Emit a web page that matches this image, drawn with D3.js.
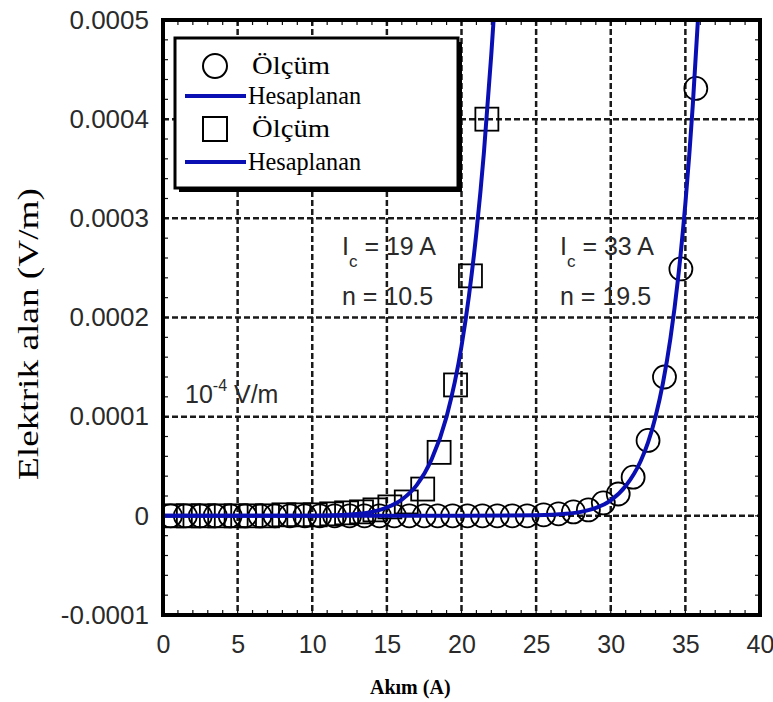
<!DOCTYPE html>
<html>
<head>
<meta charset="utf-8">
<script src="https://cdn.jsdelivr.net/npm/d3@7"></script>
<style>
body { margin: 0; background: #fff; }
</style>
</head>
<body>
<div id="chart"></div>
<script>
// Measured points, Ic = 19 A sample (squares)
const squareI = [0.6, 1.7, 2.7, 3.8, 4.9, 5.9, 7.0, 8.1, 9.1, 10.2, 11.3, 12.3, 13.3, 14.2, 15.2, 16.3, 17.4, 18.5, 19.6, 20.6, 21.7];
const squareE = [0, 0, 0, 0, 0, 0, 0, 0.000001, 0.000001, 0.000001, 0.000002, 0.000003, 0.000004, 0.000006, 0.000009, 0.000014, 0.000027, 0.000064, 0.000132, 0.000242, 0.000400];

// Measured points, Ic = 33 A sample (circles)
const circleI = [0.5, 1.5, 2.5, 3.5, 4.5, 5.5, 6.5, 7.5, 8.5, 9.5, 10.5, 11.5, 12.5, 13.5, 14.5, 15.5, 16.5, 17.5,
  18.4, 19.4, 20.4, 21.4, 22.4, 23.4, 24.4, 25.5, 26.5, 27.5, 28.5, 29.5, 30.5, 31.5, 32.5, 33.6, 34.7, 35.7];
const circleE = [0, 0, 0, 0, 0, 0, 0, 0, 0, 0, 0, 0, 0, 0, 0, 0, 0, 0,
  0, 0, 0, 0, 0, 0, 0, 0.000001, 0.000002, 0.000004, 0.000006, 0.000013, 0.000022, 0.000039, 0.000076, 0.000140, 0.000249, 0.000431];

// Calculated curves
const fit19I = [0, 10, 12, 13, 14, 15, 16, 17, 18, 19, 20, 20.5, 21, 21.5, 22, 22.15];
const fit19E = [0, 0.0000001, 0.0000008, 0.0000019, 0.000004, 0.0000084, 0.0000164, 0.000031, 0.000057, 0.0001, 0.000171, 0.000222, 0.000286, 0.000366, 0.000466, 0.0005];
const fit33I = [0, 20, 25, 27, 28, 29, 30, 31, 32, 32.5, 33, 33.5, 34, 34.5, 35, 35.5, 35.84];
const fit33E = [0, 0, 0.0000005, 0.000002, 0.000004, 0.000008, 0.0000156, 0.00003, 0.000055, 0.000074, 0.0001, 0.000134, 0.000179, 0.000238, 0.000315, 0.000415, 0.0005];

// Axis ticks
const xTicks = [0, 5, 10, 15, 20, 25, 30, 35, 40];
const yTicks = [-0.0001, 0, 0.0001, 0.0002, 0.0003, 0.0004, 0.0005];
const yTickLabels = ["-0.0001", "0", "0.0001", "0.0002", "0.0003", "0.0004", "0.0005"];

const W = 773, H = 702;
const pLeft = 163, pRight = 760, pTop = 20, pBottom = 615;
const sans = "'Liberation Sans', Arial, sans-serif";
const serif = "'Liberation Serif', 'Times New Roman', serif";
const blue = "#0a0fb4";
const ink = "#2a2a2a";

const svg = d3.select("#chart").append("svg")
  .attr("width", W)
  .attr("height", H);

const x = d3.scaleLinear().domain([0, 40]).range([pLeft, pRight]);
const y = d3.scaleLinear().domain([-0.0001, 0.0005]).range([pBottom, pTop]);

svg.append("defs").append("clipPath").attr("id", "plotclip")
  .append("rect")
  .attr("x", pLeft).attr("y", pTop)
  .attr("width", pRight - pLeft).attr("height", pBottom - pTop);

// grid
svg.append("g").selectAll("line")
  .data(xTicks.slice(1, -1))
  .join("line")
  .attr("x1", d => x(d)).attr("x2", d => x(d))
  .attr("y1", pTop).attr("y2", pBottom)
  .attr("stroke", "#1a1a1a")
  .attr("stroke-width", 2.5)
  .attr("stroke-dasharray", "6,3");

svg.append("g").selectAll("line")
  .data(yTicks.slice(1, -1))
  .join("line")
  .attr("x1", pLeft).attr("x2", pRight)
  .attr("y1", d => y(d)).attr("y2", d => y(d))
  .attr("stroke", "#1a1a1a")
  .attr("stroke-width", 2.5)
  .attr("stroke-dasharray", "6,3");

// minor ticks along the frame
const minorX = d3.range(0, 41, 1);
const minorY = d3.range(-0.0001, 0.00050001, 0.00002);
const ticks = svg.append("g").attr("stroke", "#111").attr("stroke-width", 1.2);
ticks.selectAll(".mb").data(minorX).join("line")
  .attr("x1", d => x(d)).attr("x2", d => x(d))
  .attr("y1", pBottom).attr("y2", pBottom - 5);
ticks.selectAll(".mt").data(minorX).join("line")
  .attr("x1", d => x(d)).attr("x2", d => x(d))
  .attr("y1", pTop).attr("y2", pTop + 5);
ticks.selectAll(".ml").data(minorY).join("line")
  .attr("x1", pLeft).attr("x2", pLeft + 5)
  .attr("y1", d => y(d)).attr("y2", d => y(d));
ticks.selectAll(".mr").data(minorY).join("line")
  .attr("x1", pRight).attr("x2", pRight - 5)
  .attr("y1", d => y(d)).attr("y2", d => y(d));

const plot = svg.append("g").attr("clip-path", "url(#plotclip)");

// markers
plot.append("g").selectAll("circle")
  .data(circleI.map((d, i) => [d, circleE[i]]))
  .join("circle")
  .attr("cx", d => x(d[0]))
  .attr("cy", d => y(d[1]))
  .attr("r", 11.5)
  .attr("fill", "none")
  .attr("stroke", "#000")
  .attr("stroke-width", 1.8);

plot.append("g").selectAll("rect")
  .data(squareI.map((d, i) => [d, squareE[i]]))
  .join("rect")
  .attr("x", d => x(d[0]) - 11.5)
  .attr("y", d => y(d[1]) - 11.5)
  .attr("width", 23)
  .attr("height", 23)
  .attr("fill", "none")
  .attr("stroke", "#000")
  .attr("stroke-width", 1.8);

// calculated curves
const line = d3.line()
  .x(d => x(d[0]))
  .y(d => y(d[1]))
  .curve(d3.curveMonotoneX);

[[fit19I, fit19E], [fit33I, fit33E]].forEach(([xs, ys]) => {
  plot.append("path")
    .datum(xs.map((d, i) => [d, ys[i]]))
    .attr("fill", "none")
    .attr("stroke", blue)
    .attr("stroke-width", 4)
    .attr("d", line);
});

// frame
svg.append("rect")
  .attr("x", pLeft).attr("y", pTop)
  .attr("width", pRight - pLeft).attr("height", pBottom - pTop)
  .attr("fill", "none")
  .attr("stroke", "#000")
  .attr("stroke-width", 4);

// axes labels (ticks hidden, only the text is used)
const xAxis = svg.append("g")
  .attr("transform", `translate(0,${pBottom})`)
  .call(d3.axisBottom(x).tickValues(xTicks).tickSize(0).tickPadding(20));
xAxis.select(".domain").remove();
xAxis.selectAll("text")
  .attr("font-family", sans)
  .attr("font-size", 25)
  .attr("fill", ink);

const yAxis = svg.append("g")
  .attr("transform", `translate(${pLeft},0)`)
  .call(d3.axisLeft(y).tickValues(yTicks).tickSize(0).tickPadding(14)
    .tickFormat((d, i) => yTickLabels[i]));
yAxis.select(".domain").remove();
yAxis.selectAll("text")
  .attr("font-family", sans)
  .attr("font-size", 26)
  .attr("fill", ink);

svg.append("text")
  .attr("x", 370)
  .attr("y", 694)
  .attr("font-family", serif)
  .attr("font-weight", "bold")
  .attr("font-size", 20)
  .text("Akım (A)");

svg.append("text")
  .attr("transform", "translate(38,334) rotate(-90)")
  .attr("text-anchor", "middle")
  .attr("font-family", serif)
  .attr("font-size", 29)
  .attr("textLength", 292)
  .attr("lengthAdjust", "spacingAndGlyphs")
  .text("Elektrik alan (V/m)");

// annotations
function icLabel(px, ic, n) {
  const t = svg.append("text")
    .attr("x", px).attr("y", 255)
    .attr("font-family", sans)
    .attr("font-size", 25)
    .attr("fill", ink);
  t.append("tspan").text("I");
  t.append("tspan").attr("dy", 12).attr("font-size", 17).text("c");
  t.append("tspan").attr("dy", -12).text(" = " + ic + " A");
  svg.append("text")
    .attr("x", px).attr("y", 305)
    .attr("font-family", sans)
    .attr("font-size", 25)
    .attr("fill", ink)
    .text("n = " + n);
}
icLabel(342, 19, "10.5");
icLabel(560, 33, "19.5");

const ec = svg.append("text")
  .attr("x", 185).attr("y", 403)
  .attr("font-family", sans)
  .attr("font-size", 25)
  .attr("fill", ink);
ec.append("tspan").text("10");
ec.append("tspan").attr("dy", -12).attr("font-size", 16).text("-4");
ec.append("tspan").attr("dy", 12).text(" V/m");

// legend
const lg = svg.append("g");
lg.append("rect")
  .attr("x", 179).attr("y", 42)
  .attr("width", 283).attr("height", 150)
  .attr("fill", "#000");
lg.append("rect")
  .attr("x", 175).attr("y", 38)
  .attr("width", 283).attr("height", 150)
  .attr("fill", "#fff")
  .attr("stroke", "#000")
  .attr("stroke-width", 3);

const legendRows = [
  { kind: "circle", label: "Ölçüm", yy: 66, len: 78 },
  { kind: "line", label: "Hesaplanan", yy: 96, len: 113 },
  { kind: "square", label: "Ölçüm", yy: 129, len: 78 },
  { kind: "line", label: "Hesaplanan", yy: 162, len: 113 }
];
legendRows.forEach(r => {
  if (r.kind === "circle") {
    lg.append("circle").attr("cx", 215).attr("cy", r.yy).attr("r", 12)
      .attr("fill", "none").attr("stroke", "#000").attr("stroke-width", 2);
  } else if (r.kind === "square") {
    lg.append("rect").attr("x", 203).attr("y", r.yy - 12).attr("width", 24).attr("height", 24)
      .attr("fill", "none").attr("stroke", "#000").attr("stroke-width", 2);
  } else {
    lg.append("line").attr("x1", 185).attr("x2", 246).attr("y1", r.yy).attr("y2", r.yy)
      .attr("stroke", blue).attr("stroke-width", 4);
  }
  lg.append("text")
    .attr("x", r.kind === "line" ? 248 : 252)
    .attr("y", r.yy + 8)
    .attr("font-family", serif)
    .attr("font-size", 25)
    .attr("textLength", r.len)
    .attr("lengthAdjust", "spacingAndGlyphs")
    .text(r.label);
});
</script>
</body>
</html>
